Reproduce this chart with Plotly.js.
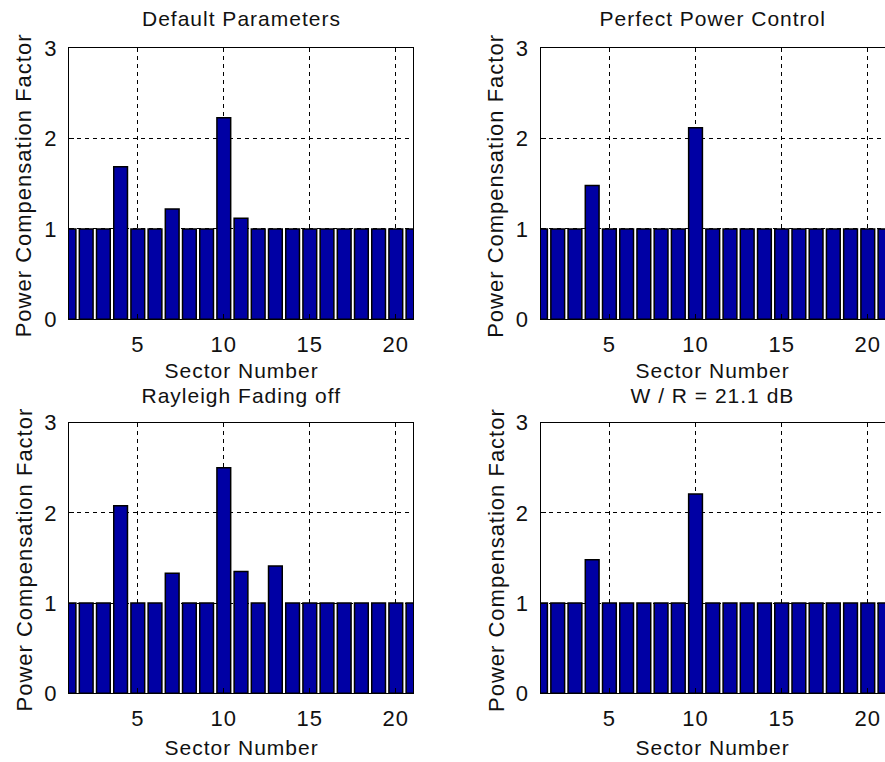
<!DOCTYPE html>
<html>
<head>
<meta charset="utf-8">
<script src="https://cdn.plot.ly/plotly-3.0.1.min.js"></script>
<style>
html, body { margin: 0; padding: 0; background: #fff; }
#chart { width: 885px; height: 762px; }
#chart svg text { letter-spacing: 1px; }
</style>
</head>
<body>
<div id="chart"></div>
<script>
// ---- data ----
const sectors = [1,2,3,4,5,6,7,8,9,10,11,12,13,14,15,16,17,18,19,20,21];
const defaultParameters   = [1,1,1,1.69,1,1,1.22,1,1,2.23,1.12,1,1,1,1,1,1,1,1,1,1];
const perfectPowerControl = [1,1,1,1.48,1,1,1,1,1,2.12,1,1,1,1,1,1,1,1,1,1,1];
const rayleighFadingOff   = [1,1,1,2.08,1,1,1.33,1,1,2.50,1.35,1,1.41,1,1,1,1,1,1,1,1];
const wOverR211           = [1,1,1,1.48,1,1,1,1,1,2.21,1,1,1,1,1,1,1,1,1,1,1];
const panelTitles = ["Default Parameters", "Perfect Power Control", "Rayleigh Fading off", "W / R = 21.1 dB"];
const xTickVals = [5,10,15,20];
const yTickVals = [0,1,2,3];
const xLabel = "Sector Number";
const yLabel = "Power Compensation Factor";

// ---- layout geometry (pixels) ----
const W = 885, H = 762;
const px = v => v / W;
const py = v => 1 - v / H;
const panels = [
  {x0: 69,    x1: 413, y0: 48.3,  y1: 319.3, data: defaultParameters,   titleGap: 30, xtGap: 51},
  {x0: 540.5, x1: 885, y0: 48.3,  y1: 319.3, data: perfectPowerControl, titleGap: 30, xtGap: 51},
  {x0: 69,    x1: 413, y0: 422.7, y1: 693.3, data: rayleighFadingOff,   titleGap: 27, xtGap: 54},
  {x0: 540.5, x1: 885, y0: 422.7, y1: 693.3, data: wOverR211,           titleGap: 27, xtGap: 54}
];

const font = {family: "Liberation Sans, Arial, sans-serif", size: 22, color: "#111"};
const barColor = "#0000A4";

const traces = [];
const layout = {
  width: W, height: H,
  margin: {l: 0, r: 0, t: 0, b: 0},
  paper_bgcolor: "#fff",
  plot_bgcolor: "#fff",
  showlegend: false,
  bargap: 0.2,
  font: font,
  annotations: []
};

panels.forEach((p, i) => {
  const n = i + 1;
  const xa = n === 1 ? "x" : "x" + n;
  const ya = n === 1 ? "y" : "y" + n;
  traces.push({
    type: "bar",
    x: sectors,
    y: p.data,
    xaxis: xa, yaxis: ya,
    width: 0.8,
    marker: {color: barColor, line: {color: "#000", width: 1.5}},
    hoverinfo: "x+y"
  });
  const common = {
    showline: true, mirror: true, linecolor: "#000", linewidth: 1,
    showgrid: true, gridcolor: "#000", gridwidth: 1, griddash: "4px,4px",
    zeroline: false,
    ticks: "inside", ticklen: 5, tickcolor: "#000", tickwidth: 1,
    tickfont: {family: font.family, size: 22, color: "#111"},
    fixedrange: true
  };
  layout["xaxis" + (n === 1 ? "" : n)] = Object.assign({}, common, {
    domain: [px(p.x0), Math.min(1, px(p.x1))],
    anchor: ya,
    range: [1, 21],
    tickmode: "array", tickvals: xTickVals,
    ticklabelstandoff: 5
  });
  layout["yaxis" + (n === 1 ? "" : n)] = Object.assign({}, common, {
    domain: [py(p.y1), py(p.y0)],
    anchor: xa,
    range: [0, 3],
    tickmode: "array", tickvals: yTickVals,
    ticklabelstandoff: 6
  });
  // panel title
  layout.annotations.push({
    text: panelTitles[i], xref: "paper", yref: "paper",
    x: px((p.x0 + p.x1) / 2), y: py(p.y0 - p.titleGap),
    xanchor: "center", yanchor: "middle", showarrow: false,
    font: {family: font.family, size: 21, color: "#111"}
  });
  // x axis title
  layout.annotations.push({
    text: xLabel, xref: "paper", yref: "paper",
    x: px((p.x0 + p.x1) / 2), y: py(p.y1 + p.xtGap),
    xanchor: "center", yanchor: "middle", showarrow: false,
    font: {family: font.family, size: 21, color: "#111"}
  });
  // y axis title
  layout.annotations.push({
    text: yLabel, xref: "paper", yref: "paper",
    x: px(p.x0 - 45), y: py((p.y0 + p.y1) / 2 + 2),
    xanchor: "center", yanchor: "middle", showarrow: false, textangle: -90,
    font: {family: font.family, size: 22, color: "#111"}
  });
});

Plotly.newPlot("chart", traces, layout, {displayModeBar: false, staticPlot: true});
</script>
</body>
</html>
